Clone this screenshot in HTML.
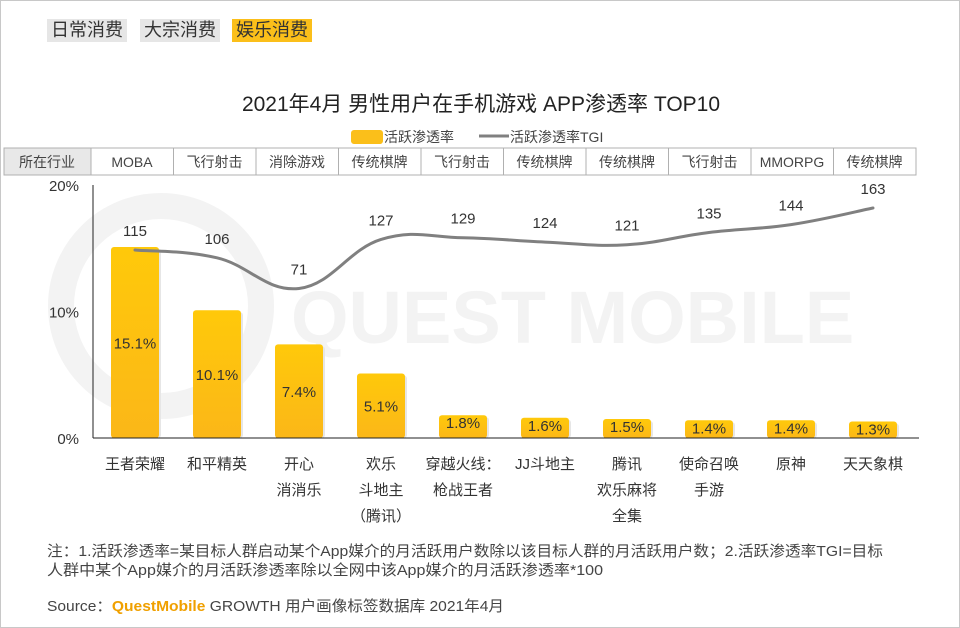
<!DOCTYPE html>
<html><head><meta charset="utf-8">
<style>
body{margin:0;background:#fff;font-family:"Liberation Sans","Noto Sans CJK SC",sans-serif;}
#wrap{position:relative;width:958px;height:626px;border:1px solid #c8c8c8;overflow:hidden;}
.tab{position:absolute;top:18px;height:23px;font-size:18px;line-height:23px;padding:0 4px;color:#333;}
</style></head><body>
<div id="wrap">
<div class="tab" style="left:46px;background:#e6e6e6">日常消费</div>
<div class="tab" style="left:139px;background:#e6e6e6">大宗消费</div>
<div class="tab" style="left:231px;background:#fbbf1a">娱乐消费</div>
<svg id="svg" width="958" height="626" style="position:absolute;left:0;top:0"></svg>
</div>
<script>
const categories=[["王者荣耀"],["和平精英"],["开心","消消乐"],["欢乐","斗地主","（腾讯）"],["穿越火线：","枪战王者"],["JJ斗地主"],["腾讯","欢乐麻将","全集"],["使命召唤","手游"],["原神"],["天天象棋"]];
const industries=["MOBA","飞行射击","消除游戏","传统棋牌","飞行射击","传统棋牌","传统棋牌","飞行射击","MMORPG","传统棋牌"];
const penetration=[15.1,10.1,7.4,5.1,1.8,1.6,1.5,1.4,1.4,1.3];
const tgi=[115,106,71,127,129,124,121,135,144,163];
const yTicks=[0,10,20];
const NS="http://www.w3.org/2000/svg";
const svg=document.getElementById('svg');
function el(t,a,txt){const e=document.createElementNS(NS,t);for(const k in a)e.setAttribute(k,a[k]);if(txt!==undefined)e.textContent=txt;svg.appendChild(e);return e;}
const x0=92,step=82,y0=437,yTop=184;
const xc=i=>134+i*step;
const yv=v=>y0-(v/20)*(y0-yTop);
const yt=v=>349.6-0.875*v;
const defs=el('defs',{});
defs.innerHTML='<linearGradient id="bg" x1="0" y1="0" x2="0" y2="1"><stop offset="0" stop-color="#ffc90a"/><stop offset="1" stop-color="#fbb718"/></linearGradient>';
let w=el('circle',{cx:160,cy:305,r:100,fill:'none',stroke:'#f3f3f3','stroke-width':26});

w=el('text',{x:290,y:342,'font-size':74,fill:'#f3f3f3','font-weight':'bold','font-family':'Liberation Sans,sans-serif'},'QUEST MOBILE');

let t=el('text',{x:480,y:110,'text-anchor':'middle','font-size':21,fill:'#222'},'2021年4月 男性用户在手机游戏 APP渗透率 TOP10');

let l=el('rect',{x:350,y:129,width:32,height:14,rx:3,fill:'#fbbf1a'});

l=el('text',{x:383,y:141,'font-size':14,fill:'#444'},'活跃渗透率');

l=el('line',{x1:478,y1:135,x2:508,y2:135,stroke:'#808080','stroke-width':3});

l=el('text',{x:509,y:141,'font-size':14,fill:'#444'},'活跃渗透率TGI');

let r=el('rect',{x:3,y:147,width:87,height:27,fill:'#e8e8e8',stroke:'#b0b0b0'});

r=el('text',{x:46,y:166,'text-anchor':'middle','font-size':14,fill:'#444'},'所在行业');

industries.forEach((s,i)=>{
  const c=el('rect',{x:90+i*82.5,y:147,width:82.5,height:27,fill:'#fff',stroke:'#b0b0b0'});
  
  const tx=el('text',{x:90+i*82.5+41,y:166,'text-anchor':'middle','font-size':14,fill:'#444'},s);
  
});
yTicks.forEach(v=>{
  const tx=el('text',{x:78,y:yv(v)+6,'text-anchor':'end','font-size':15,fill:'#333'},v+'%');
  
});
penetration.forEach((v,i)=>{
  const s=el('rect',{x:xc(i)-22,y:yv(v)+2,width:48,height:y0-yv(v)-2,fill:'#e6e6e6',rx:3});
  
  const b=el('rect',{x:xc(i)-24,y:yv(v),width:48,height:y0-yv(v),fill:'url(#bg)',rx:3});
  
  const ly=v>3?(yv(v)+y0)/2+6:yv(v)+13;
  const tx=el('text',{x:xc(i),y:ly,'text-anchor':'middle','font-size':15,fill:'#333'},v.toFixed(1)+'%');
  
});
let a=el('line',{x1:x0,y1:yTop,x2:x0,y2:y0,stroke:'#222','stroke-width':1});

a=el('line',{x1:x0,y1:y0,x2:918,y2:y0,stroke:'#222','stroke-width':1});

const pts=tgi.map((v,i)=>[xc(i),yt(v)]);
let d='M'+pts[0][0]+','+pts[0][1];
for(let i=0;i<pts.length-1;i++){
  const p0=pts[i-1]||pts[i],p1=pts[i],p2=pts[i+1],p3=pts[i+2]||p2;
  const k=0.2;
  d+=' C'+(p1[0]+(p2[0]-p0[0])*k)+','+(p1[1]+(p2[1]-p0[1])*k)+' '+(p2[0]-(p3[0]-p1[0])*k)+','+(p2[1]-(p3[1]-p1[1])*k)+' '+p2[0]+','+p2[1];
}
let ln=el('path',{d:d,fill:'none',stroke:'#808080','stroke-width':3,'stroke-linecap':'round'});

tgi.forEach((v,i)=>{
  const tx=el('text',{x:xc(i),y:yt(v)-14,'text-anchor':'middle','font-size':15,fill:'#333'},String(v));
  
});
categories.forEach((lines,i)=>{
  lines.forEach((s,j)=>{
    const tx=el('text',{x:xc(i),y:468+j*26,'text-anchor':'middle','font-size':15,fill:'#333'},s);
    
  });
});
let n=el('text',{x:46,y:555,'font-size':15,fill:'#444',textLength:836,lengthAdjust:'spacingAndGlyphs'},'注：1.活跃渗透率=某目标人群启动某个App媒介的月活跃用户数除以该目标人群的月活跃用户数；2.活跃渗透率TGI=目标');

n=el('text',{x:46,y:574,'font-size':15,fill:'#444',textLength:556,lengthAdjust:'spacingAndGlyphs'},'人群中某个App媒介的月活跃渗透率除以全网中该App媒介的月活跃渗透率*100');

n=el('text',{x:46,y:610,'font-size':15,fill:'#444',textLength:457,lengthAdjust:'spacingAndGlyphs'});
n.innerHTML='Source：<tspan fill="#f0a000" font-weight="bold">QuestMobile</tspan> GROWTH 用户画像标签数据库 2021年4月';

</script>
</body></html>
